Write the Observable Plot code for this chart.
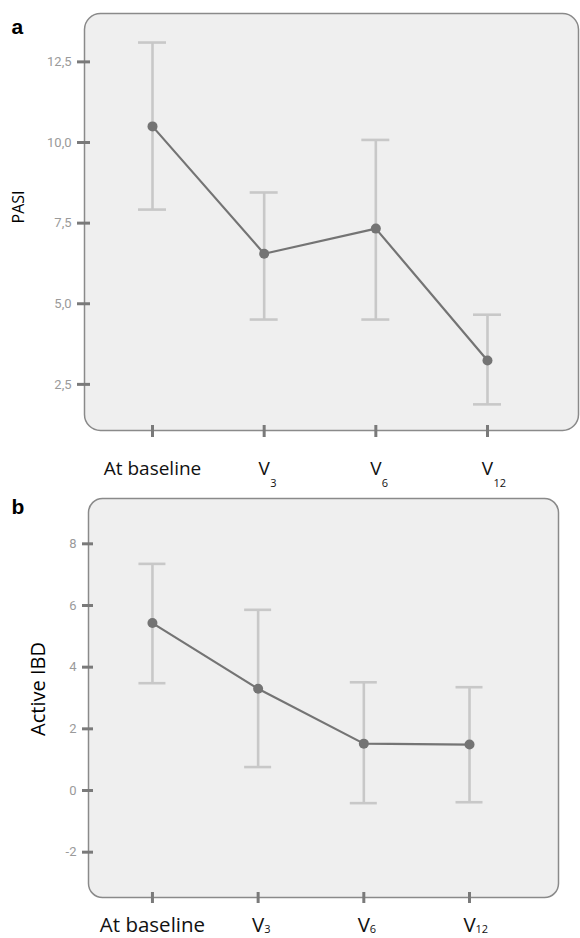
<!DOCTYPE html>
<html><head><meta charset="utf-8">
<script src="https://cdn.jsdelivr.net/npm/d3@7"></script>
<script src="https://cdn.jsdelivr.net/npm/@observablehq/plot@0.6"></script>
<style>body{margin:0;background:#fff;} #chart svg{display:block;}</style>
</head><body><div id="chart"></div>
<script>
// ---- data ----
const labels = ["At baseline", "V3", "V6", "V12"];
const pasiMean = [10.5, 6.55, 7.33, 3.24];
const pasiLow  = [7.92, 4.51, 4.51, 1.88];
const pasiHigh = [13.1, 8.45, 10.08, 4.66];
const ibdMean  = [5.43, 3.30, 1.52, 1.49];
const ibdLow   = [3.48, 0.76, -0.41, -0.38];
const ibdHigh  = [7.35, 5.86, 3.51, 3.35];
const pasiTicks = [2.5, 5, 7.5, 10, 12.5];
const ibdTicks = [-2, 0, 2, 4, 6, 8];

const rowsFor = (mean, lo, hi) => labels.map((l, i) => ({
  i, base: l.replace(/\d+$/, ""), sub: (l.match(/\d+$/) || [""])[0],
  mean: mean[i], lo: lo[i], hi: hi[i]
}));

function panel(cfg) {
  const rows = rowsFor(cfg.mean, cfg.lo, cfg.hi);
  const svg = Plot.plot({
    width: 580, height: cfg.height,
    marginTop: cfg.mt, marginBottom: cfg.mb, marginLeft: cfg.ml, marginRight: cfg.mr,
    style: {fontFamily: "Open Sans", background: "#fff", overflow: "visible"},
    x: {type: "linear", domain: cfg.xDomain, axis: null},
    y: {domain: cfg.yDomain, axis: null},
    marks: [
      Plot.frame({fill: "#efefef", stroke: "#8a8a8a", strokeWidth: 1.5, rx: cfg.rx}),
      Plot.ruleX(rows, {x: "i", y1: "lo", y2: "hi", stroke: "#c8c8c8", strokeWidth: 2.6}),
      Plot.ruleY(rows, {y: "hi", x1: "i", x2: "i", insetLeft: -cfg.cap, insetRight: -cfg.cap, stroke: "#c8c8c8", strokeWidth: 2.6}),
      Plot.ruleY(rows, {y: "lo", x1: "i", x2: "i", insetLeft: -cfg.cap, insetRight: -cfg.cap, stroke: "#c8c8c8", strokeWidth: 2.6}),
      Plot.line(rows, {x: "i", y: "mean", stroke: "#747474", strokeWidth: 2.2}),
      Plot.dot(rows, {x: "i", y: "mean", r: 5, fill: "#747474"}),
      Plot.axisY({ticks: cfg.yTicks, tickFormat: cfg.yFormat, tickSize: cfg.yTickSize, tickPadding: 6,
        dx: cfg.yTickDx, stroke: "#7a7a7a", strokeWidth: 3, fill: "#9a9a9a",
        fontSize: cfg.yFont, fontFamily: "Roboto", label: null}),
      Plot.axisX({ticks: [0, 1, 2, 3], tickFormat: () => "", tickSize: cfg.xTickSize, dy: -5,
        stroke: "#7a7a7a", strokeWidth: 3, label: null}),
      Plot.text(rows, {x: "i", text: "base", frameAnchor: "bottom", lineAnchor: "bottom",
        dy: cfg.labDy, fontSize: cfg.labFont, fill: "#111", fontFamily: "Open Sans", ariaLabel: "xlabel"}),
      Plot.text(rows.filter(d => d.sub), {x: "i", text: "sub", frameAnchor: "bottom", lineAnchor: "bottom",
        textAnchor: "start", dx: 6, dy: cfg.subDy, fontSize: cfg.subFont, fill: "#111", fontFamily: "Open Sans", ariaLabel: "xsub"}),
      Plot.text([cfg.letter], {frameAnchor: "top-left", textAnchor: "start", lineAnchor: "bottom",
        dx: cfg.letDx, dy: cfg.letDy, fontSize: 21, fontWeight: "bold", fontFamily: "Liberation Sans", fill: "#000"}),
      Plot.text([cfg.ylabel], {frameAnchor: "left", rotate: -90, textAnchor: "middle", lineAnchor: "middle",
        dx: cfg.ylDx, dy: cfg.ylDy, fontSize: cfg.ylFont, fill: "#000", fontFamily: "Open Sans"})
    ]
  });
  svg.querySelectorAll('[aria-label="frame"]').forEach(el => {
    const r = el.tagName.toLowerCase() === "rect" ? el : el.querySelector("rect");
    if (r) { r.setAttribute("rx", cfg.rx); r.setAttribute("ry", cfg.rx); }
  });
  svg.querySelectorAll('g[aria-label="xlabel"] text, g[aria-label="xsub"] text').forEach(t => {
    let tr = t.getAttribute("transform");
    if (!tr) {
      tr = `translate(${t.getAttribute("x") || 0},${t.getAttribute("y") || 0})`;
      t.removeAttribute("x"); t.removeAttribute("y");
    }
    t.setAttribute("transform", tr + ` scale(1,${cfg.labScale})`);
  });
  return svg;
}

const comma1 = d => d.toFixed(1).replace(".", ",");
const chart = document.getElementById("chart");
chart.appendChild(panel({
  mean: pasiMean, lo: pasiLow, hi: pasiHigh, height: 480,
  mt: 13, mb: 50, ml: 84, mr: 2, xDomain: [-0.609, 3.815], yDomain: [1.07, 14.0], rx: 16, cap: 14,
  yTicks: pasiTicks, yFormat: comma1, yTickSize: 13, yTickDx: 6, yFont: 13, xTickSize: 12,
  labDy: 44, subDy: 56, labFont: 19, subFont: 11, labScale: 1.3,
  letter: "a", letDx: -73, letDy: 20, ylabel: "PASI", ylDx: -66, ylDy: -15, ylFont: 16
}));
chart.appendChild(panel({
  mean: ibdMean, lo: ibdLow, hi: ibdHigh, height: 458,
  mt: 18, mb: 41, ml: 88, mr: 22, xDomain: [-0.605, 3.842], yDomain: [-3.47, 9.47], rx: 14, cap: 13.5,
  yTicks: ibdTicks, yFormat: d => String(d), yTickSize: 11, yTickDx: 5, yFont: 13, xTickSize: 11,
  labDy: 34, subDy: 35, labFont: 20.5, subFont: 11, labScale: 1.4,
  letter: "b", letDx: -77, letDy: 15, ylabel: "Active IBD", ylDx: -50, ylDy: -9, ylFont: 20
}));
</script>
</body></html>
